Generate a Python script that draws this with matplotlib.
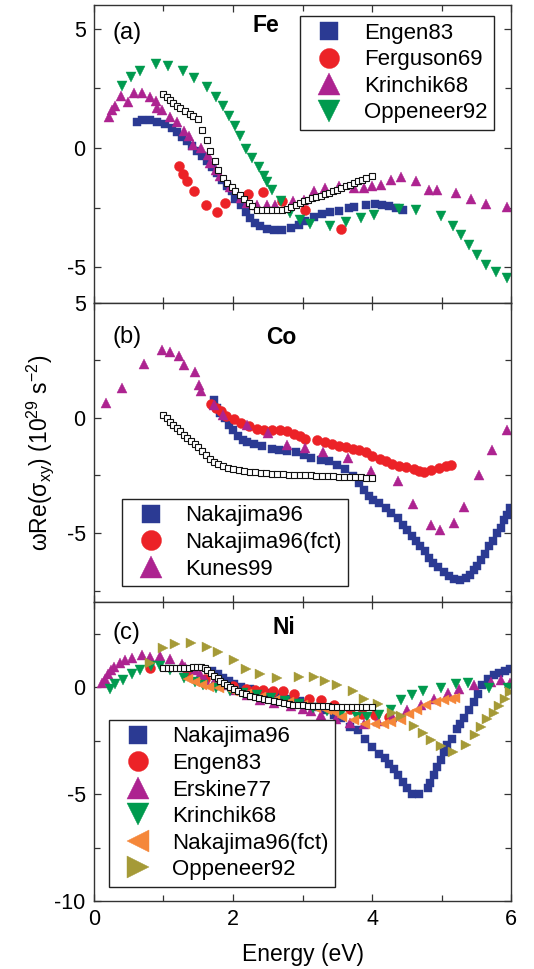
import matplotlib
matplotlib.use("Agg")
import matplotlib.pyplot as plt
from matplotlib.ticker import MultipleLocator

plt.rcParams['font.family'] = ['Liberation Sans', 'DejaVu Sans']
plt.rcParams['mathtext.fontset'] = 'custom'
plt.rcParams['mathtext.rm'] = 'Liberation Sans'
plt.rcParams['mathtext.it'] = 'Liberation Sans:italic'
plt.rcParams['axes.unicode_minus'] = False

# colours used for each dataset
BLUE = '#2b3a93'
RED = '#ec2227'
PURPLE = '#ad2390'
GREEN = '#009a4e'
ORANGE = '#f5873a'
OLIVE = '#a59a37'

# ---------------- Fe ----------------
fe_engen_x = [0.62, 0.69, 0.81, 0.90, 1.02, 1.12, 1.19, 1.26, 1.34, 1.41, 1.48, 1.55, 1.63, 1.70, 1.77,
              1.84, 1.91, 1.99, 2.03, 2.11, 2.18, 2.25, 2.32, 2.39, 2.49, 2.59, 2.71, 2.83, 2.95, 3.04,
              3.16, 3.28, 3.40, 3.52, 3.67, 3.74, 3.91, 4.05, 4.15, 4.25, 4.34, 4.44]
fe_engen_y = [1.08, 1.16, 1.16, 1.08, 1.02, 0.84, 0.66, 0.46, 0.28, 0.07, -0.14, -0.35, -0.56, -0.80, -1.05,
              -1.33, -1.58, -1.82, -2.14, -2.40, -2.68, -2.93, -3.14, -3.28, -3.39, -3.45, -3.45, -3.35, -3.24, -3.07,
              -2.89, -2.75, -2.67, -2.63, -2.51, -2.47, -2.39, -2.36, -2.40, -2.44, -2.51, -2.61]

fe_ferguson_x = [1.22, 1.28, 1.34, 1.44, 1.61, 1.77, 1.88, 2.21, 2.43, 2.70, 3.03, 3.56]
fe_ferguson_y = [-0.77, -1.09, -1.40, -1.82, -2.40, -2.68, -2.30, -1.91, -1.86, -2.23, -2.61, -3.39]

fe_krinchik_x = [0.21, 0.26, 0.30, 0.39, 0.49, 0.58, 0.69, 0.81, 0.89, 0.90, 0.98, 1.10, 1.19, 1.29, 1.36,
                 1.42, 1.54, 1.64, 1.67, 1.75, 1.82, 1.95, 2.11, 2.20, 2.35, 2.49, 2.61, 2.87, 3.02, 3.16,
                 3.33, 3.52, 3.74, 3.88, 4.00, 4.13, 4.27, 4.41, 4.63, 4.82, 4.94, 5.21, 5.42, 5.64, 5.94]
fe_krinchik_y = [1.30, 1.60, 1.77, 2.19, 1.95, 2.30, 2.33, 2.16, 1.99, 1.68, 1.58, 1.32, 1.11, 0.70, 0.49,
                 0.14, 0.00, -0.28, -0.63, -0.91, -1.19, -1.65, -2.09, -2.30, -2.40, -2.37, -2.37, -2.23, -2.17, -1.82,
                 -1.68, -1.61, -1.68, -1.68, -1.61, -1.54, -1.33, -1.22, -1.40, -1.75, -1.75, -1.89, -2.14, -2.33, -2.47]

fe_oppeneer_x = [0.41, 0.53, 0.66, 0.89, 1.07, 1.28, 1.44, 1.63, 1.75, 1.86, 1.94, 2.03, 2.10, 2.19, 2.27,
                 2.37, 2.44, 2.49, 2.56, 2.69, 2.82, 2.96, 3.11, 3.40, 3.62, 3.84, 4.03, 4.39, 4.63, 4.99,
                 5.17, 5.28, 5.40, 5.51, 5.64, 5.78, 5.94]
fe_oppeneer_y = [2.61, 2.97, 3.25, 3.53, 3.46, 3.25, 2.93, 2.56, 2.16, 1.75, 1.35, 0.94, 0.52, -0.04, -0.42,
                 -0.81, -1.19, -1.44, -1.77, -2.22, -2.72, -3.00, -3.18, -3.25, -3.11, -2.93, -2.79, -2.56, -2.61, -2.84,
                 -3.25, -3.63, -4.08, -4.47, -4.89, -5.21, -5.45]

fe_calc_x = [1.00, 1.05, 1.10, 1.14, 1.19, 1.24, 1.31, 1.38, 1.43, 1.50, 1.55, 1.62, 1.67, 1.74, 1.79,
             1.86, 1.91, 1.98, 2.03, 2.10, 2.16, 2.23, 2.28, 2.35, 2.42, 2.49, 2.56, 2.63, 2.71, 2.77,
             2.83, 2.90, 2.96, 3.02, 3.08, 3.14, 3.20, 3.26, 3.32, 3.38, 3.44, 3.50, 3.56, 3.62, 3.68,
             3.74, 3.80, 3.86, 3.92, 4.00]
fe_calc_y = [2.28, 2.14, 2.03, 1.89, 1.77, 1.68, 1.54, 1.42, 1.33, 1.22, 0.77, 0.32, -0.14, -0.56, -0.91,
             -1.26, -1.47, -1.63, -1.82, -1.96, -2.14, -2.30, -2.44, -2.58, -2.61, -2.61, -2.60, -2.60, -2.58, -2.56,
             -2.47, -2.37, -2.30, -2.22, -2.16, -2.11, -2.05, -2.00, -1.94, -1.87, -1.80, -1.75, -1.68, -1.61, -1.54,
             -1.47, -1.40, -1.33, -1.26, -1.19]

# ---------------- Co ----------------
co_nak_x = [1.72, 1.77, 1.82, 1.88, 1.94, 2.00, 2.07, 2.14, 2.20, 2.30, 2.42, 2.56, 2.66, 2.77, 2.90,
            3.02, 3.12, 3.26, 3.38, 3.49, 3.61, 3.73, 3.81, 3.89, 3.96, 4.02, 4.10, 4.20, 4.28, 4.37,
            4.44, 4.50, 4.57, 4.63, 4.69, 4.76, 4.82, 4.88, 4.95, 5.03, 5.11, 5.18, 5.27, 5.35, 5.41,
            5.46, 5.51, 5.57, 5.63, 5.69, 5.74, 5.80, 5.85, 5.90, 5.94, 5.99]
co_nak_y = [0.80, 0.43, 0.22, 0.00, -0.29, -0.54, -0.77, -0.94, -1.06, -1.13, -1.20, -1.35, -1.38, -1.45, -1.49,
            -1.59, -1.74, -1.84, -1.88, -2.03, -2.22, -2.54, -2.83, -3.12, -3.38, -3.55, -3.70, -3.91, -4.13, -4.35,
            -4.64, -4.86, -5.12, -5.36, -5.58, -5.80, -6.09, -6.30, -6.48, -6.71, -6.88, -7.00, -7.03, -6.96, -6.81,
            -6.59, -6.42, -6.16, -5.90, -5.58, -5.36, -5.00, -4.78, -4.42, -4.20, -3.91]

co_fct_x = [1.68, 1.76, 1.83, 1.90, 2.01, 2.12, 2.23, 2.35, 2.44, 2.56, 2.67, 2.77, 2.88, 2.97, 3.04,
            3.21, 3.33, 3.43, 3.52, 3.62, 3.72, 3.81, 3.91, 4.00, 4.12, 4.20, 4.29, 4.39, 4.49, 4.60,
            4.68, 4.75, 4.85, 4.97, 5.06, 5.13]
co_fct_y = [0.62, 0.43, 0.29, 0.10, -0.04, -0.22, -0.36, -0.46, -0.51, -0.54, -0.54, -0.58, -0.68, -0.80, -0.90,
            -0.94, -1.06, -1.12, -1.20, -1.28, -1.35, -1.41, -1.49, -1.64, -1.77, -1.88, -2.00, -2.07, -2.13, -2.22,
            -2.32, -2.36, -2.28, -2.17, -2.10, -2.03]

co_kunes_x = [0.18, 0.41, 0.72, 0.98, 1.10, 1.23, 1.29, 1.45, 1.51, 1.54, 1.72, 1.86, 2.20, 2.51, 2.77,
              3.04, 3.30, 3.65, 3.99, 4.37, 4.59, 4.85, 4.98, 5.18, 5.32, 5.54, 5.72, 5.94]
co_kunes_y = [0.65, 1.30, 2.36, 2.97, 2.86, 2.68, 2.32, 1.99, 1.45, 1.16, 0.58, 0.14, -0.32, -0.65, -1.16,
              -1.30, -1.49, -1.74, -2.32, -2.75, -3.72, -4.64, -4.88, -4.57, -3.88, -2.49, -1.41, -0.54]

co_calc_x = [1.00, 1.05, 1.10, 1.14, 1.19, 1.24, 1.29, 1.34, 1.40, 1.45, 1.50, 1.55, 1.61, 1.67, 1.73,
             1.79, 1.86, 1.93, 2.00, 2.08, 2.16, 2.24, 2.32, 2.40, 2.48, 2.56, 2.64, 2.72, 2.80, 2.88,
             2.96, 3.04, 3.12, 3.20, 3.28, 3.36, 3.44, 3.52, 3.60, 3.68, 3.76, 3.84, 3.92, 4.00]
co_calc_y = [0.12, -0.02, -0.16, -0.30, -0.45, -0.58, -0.72, -0.86, -1.00, -1.13, -1.28, -1.45, -1.62, -1.78, -1.92,
             -2.02, -2.10, -2.16, -2.22, -2.27, -2.31, -2.34, -2.37, -2.39, -2.41, -2.43, -2.44, -2.45, -2.46, -2.47,
             -2.48, -2.49, -2.50, -2.51, -2.52, -2.53, -2.54, -2.55, -2.56, -2.57, -2.57, -2.58, -2.59, -2.60]

# ---------------- Ni ----------------
ni_nak_x = [1.70, 1.78, 1.86, 1.94, 2.02, 2.12, 2.24, 2.36, 2.48, 2.60, 2.72, 2.84, 2.96, 3.08, 3.20,
            3.32, 3.45, 3.55, 3.68, 3.80, 3.90, 4.00, 4.10, 4.18, 4.25, 4.32, 4.38, 4.44, 4.50, 4.58,
            4.68, 4.80, 4.84, 4.89, 4.94, 4.99, 5.03, 5.08, 5.15, 5.22, 5.27, 5.32, 5.40, 5.47, 5.52,
            5.58, 5.67, 5.75, 5.83, 5.91, 5.98]
ni_nak_y = [0.75, 0.60, 0.45, 0.30, 0.15, 0.02, -0.10, -0.20, -0.28, -0.36, -0.45, -0.55, -0.66, -0.78, -0.92,
            -1.08, -1.29, -1.45, -1.84, -2.02, -2.40, -2.79, -3.10, -3.30, -3.57, -3.80, -4.11, -4.42, -4.73, -4.97,
            -5.00, -4.73, -4.47, -4.11, -3.72, -3.38, -3.02, -2.71, -2.40, -1.93, -1.70, -1.42, -1.07, -0.69, -0.30,
            0.10, 0.40, 0.58, 0.69, 0.78, 0.84]

ni_engen_x = [0.80, 1.34, 1.60, 1.80, 2.00, 2.18, 2.32, 2.43, 2.58, 2.72, 2.88, 3.09, 3.26, 3.46, 3.68,
              3.86, 4.04, 4.24]
ni_engen_y = [0.92, 0.64, 0.40, 0.20, 0.05, -0.06, -0.14, -0.11, -0.17, -0.17, -0.33, -0.53, -0.61, -0.84, -1.00,
              -1.23, -1.31, -1.39]

ni_erskine_x = [0.12, 0.16, 0.20, 0.25, 0.29, 0.38, 0.45, 0.54, 0.69, 0.81, 0.95, 1.10, 1.27, 1.31, 1.46,
                1.53, 1.59, 1.72, 1.85, 2.01, 2.20, 2.39, 2.59, 2.83, 3.00, 3.12, 3.26, 3.48, 3.69, 3.88,
                4.08, 4.29, 4.51, 4.70, 4.89, 5.09, 5.25, 5.47, 5.71, 5.85, 5.98]
ni_erskine_y = [0.20, 0.40, 0.64, 0.83, 0.95, 1.14, 1.26, 1.39, 1.50, 1.42, 1.45, 1.34, 1.11, 0.97, 0.79,
                0.64, 0.34, 0.26, 0.10, -0.12, -0.36, -0.59, -0.75, -0.87, -1.00, -1.12, -1.29, -1.50, -1.68, -1.71,
                -1.60, -1.40, -1.06, -0.83, -0.56, -0.28, -0.09, 0.11, 0.26, 0.34, 0.22]

ni_krinchik_x = [0.23, 0.30, 0.42, 0.54, 0.66, 0.82, 0.95, 1.10, 1.30, 1.45, 1.57, 1.75, 1.95, 2.15, 2.35,
                 2.55, 2.75, 2.95, 3.15, 3.35, 3.55, 3.79, 3.93, 4.10, 4.28, 4.41, 4.58, 4.73, 4.99, 5.21,
                 5.38, 5.69, 5.95]
ni_krinchik_y = [-0.10, 0.17, 0.34, 0.62, 0.81, 1.00, 0.98, 0.80, 0.45, 0.25, 0.09, -0.05, -0.15, -0.25, -0.35,
                 -0.50, -0.62, -0.78, -0.95, -1.10, -1.25, -1.37, -1.40, -1.29, -1.06, -0.59, -0.36, -0.16, -0.05, 0.16,
                 0.19, -0.05, -0.05]

ni_fct_x = [1.35, 1.45, 1.55, 1.65, 1.80, 2.00, 2.20, 2.40, 2.60, 2.80, 3.00, 3.20, 3.35, 3.45, 3.57,
            3.74, 3.90, 4.05, 4.17, 4.27, 4.41, 4.53, 4.65, 4.77, 4.92, 5.03, 5.13, 5.20]
ni_fct_y = [0.40, 0.25, 0.12, 0.02, -0.05, -0.15, -0.30, -0.45, -0.60, -0.70, -0.82, -0.95, -1.05, -1.15, -1.39,
            -1.54, -1.70, -1.74, -1.70, -1.62, -1.51, -1.26, -1.07, -0.84, -0.69, -0.61, -0.55, -0.50]

ni_oppeneer_x = [0.80, 1.00, 1.17, 1.39, 1.62, 1.79, 2.01, 2.19, 2.39, 2.63, 2.95, 3.16, 3.33, 3.50, 3.72,
                 3.88, 4.08, 4.29, 4.41, 4.61, 4.73, 4.85, 4.99, 5.16, 5.35, 5.48, 5.57, 5.66, 5.75, 5.83,
                 5.91, 5.99]
ni_oppeneer_y = [1.12, 1.85, 2.02, 2.06, 1.90, 1.67, 1.28, 0.84, 0.62, 0.42, 0.47, 0.47, 0.30, 0.11, -0.16,
                 -0.56, -0.78, -1.18, -1.34, -1.81, -2.15, -2.46, -2.77, -3.01, -2.69, -2.23, -1.87, -1.50, -1.21, -0.87,
                 -0.56, -0.20]

ni_calc_x = [1.00, 1.06, 1.12, 1.18, 1.24, 1.30, 1.36, 1.42, 1.48, 1.54, 1.60, 1.63, 1.68, 1.73, 1.78,
             1.82, 1.87, 1.92, 1.96, 2.01, 2.07, 2.13, 2.19, 2.25, 2.31, 2.37, 2.44, 2.51, 2.59, 2.66,
             2.73, 2.80, 2.87, 2.94, 3.01, 3.08, 3.15, 3.22, 3.29, 3.36, 3.43, 3.50, 3.57, 3.64, 3.71,
             3.78, 3.85, 3.92, 4.00]
ni_calc_y = [0.90, 0.90, 0.90, 0.91, 0.91, 0.92, 0.92, 0.93, 0.93, 0.94, 0.92, 0.81, 0.68, 0.53, 0.42,
             0.30, 0.19, 0.09, 0.00, -0.09, -0.17, -0.25, -0.33, -0.39, -0.44, -0.50, -0.56, -0.61, -0.65, -0.70,
             -0.75, -0.78, -0.81, -0.83, -0.85, -0.86, -0.87, -0.88, -0.89, -0.89, -0.90, -0.90, -0.91, -0.91, -0.92,
             -0.92, -0.93, -0.93, -0.93]

FS = 15.5
LEG_FS = 16
MS = {'s': 6.2, 'o': 7.2, '^': 7.6, 'v': 7.6, '<': 7.6, '>': 7.6}


def pts(ax, x, y, marker, color, label):
    ax.plot(x, y, ls='none', marker=marker, ms=MS[marker], mfc=color, mec=color,
            mew=0.3, label=label)


def calc(ax, x, y):
    ax.plot(x, y, ls='none', marker='s', ms=5.0, mfc='white', mec='#111111', mew=0.8, zorder=5)


def style(ax, ylim, bottom=False):
    ax.set_xlim(0, 6)
    ax.set_ylim(*ylim)
    ax.xaxis.set_major_locator(MultipleLocator(2))
    ax.xaxis.set_minor_locator(MultipleLocator(1))
    ax.yaxis.set_major_locator(MultipleLocator(5))
    ax.yaxis.set_minor_locator(MultipleLocator(2.5))
    ax.tick_params(which='both', direction='in', top=True, right=True, labelsize=FS,
                   color='#333333', width=0.9)
    ax.tick_params(which='major', length=5, pad=6)
    ax.tick_params(which='minor', length=4.5)
    if not bottom:
        ax.tick_params(labelbottom=False)
    for s in ax.spines.values():
        s.set_color('#333333')
        s.set_linewidth(1.0)


def legend(ax, anchor, loc):
    leg = ax.legend(loc=loc, bbox_to_anchor=anchor, fontsize=LEG_FS, markerscale=2.0,
                    frameon=True, fancybox=False, framealpha=1, edgecolor='#222222',
                    borderpad=0.3, labelspacing=0.25, handlelength=2.0, handletextpad=0.55,
                    borderaxespad=0.0)
    leg.get_frame().set_linewidth(1.0)


fig = plt.figure(figsize=(5.34, 9.69), dpi=100)
left, width = 0.176, 0.781
h = 0.3087
ax_a = fig.add_axes([left, 0.6873, width, 0.3075])
ax_b = fig.add_axes([left, 0.3787, width, h])
ax_c = fig.add_axes([left, 0.0702, width, h])

# (a) Fe
pts(ax_a, fe_engen_x, fe_engen_y, 's', BLUE, 'Engen83')
pts(ax_a, fe_ferguson_x, fe_ferguson_y, 'o', RED, 'Ferguson69')
pts(ax_a, fe_krinchik_x, fe_krinchik_y, '^', PURPLE, 'Krinchik68')
pts(ax_a, fe_oppeneer_x, fe_oppeneer_y, 'v', GREEN, 'Oppeneer92')
calc(ax_a, fe_calc_x, fe_calc_y)
style(ax_a, (-6.5, 6))
legend(ax_a, (0.959, 0.963), 'upper right')
ax_a.text(0.045, 0.905, '(a)', transform=ax_a.transAxes, fontsize=17, va='center')
ax_a.text(0.413, 0.93, 'Fe', transform=ax_a.transAxes, fontsize=16.5, fontweight='bold',
          ha='center', va='center')

# (b) Co
pts(ax_b, co_nak_x, co_nak_y, 's', BLUE, 'Nakajima96')
pts(ax_b, co_fct_x, co_fct_y, 'o', RED, 'Nakajima96(fct)')
pts(ax_b, co_kunes_x, co_kunes_y, '^', PURPLE, 'Kunes99')
calc(ax_b, co_calc_x, co_calc_y)
style(ax_b, (-8, 5))
legend(ax_b, (0.067, 0.053), 'lower left')
ax_b.text(0.045, 0.886, '(b)', transform=ax_b.transAxes, fontsize=17, va='center')
ax_b.text(0.45, 0.883, 'Co', transform=ax_b.transAxes, fontsize=16.5, fontweight='bold',
          ha='center', va='center')

# (c) Ni
pts(ax_c, ni_nak_x, ni_nak_y, 's', BLUE, 'Nakajima96')
pts(ax_c, ni_engen_x, ni_engen_y, 'o', RED, 'Engen83')
pts(ax_c, ni_erskine_x, ni_erskine_y, '^', PURPLE, 'Erskine77')
pts(ax_c, ni_krinchik_x, ni_krinchik_y, 'v', GREEN, 'Krinchik68')
pts(ax_c, ni_fct_x, ni_fct_y, '<', ORANGE, 'Nakajima96(fct)')
pts(ax_c, ni_oppeneer_x, ni_oppeneer_y, '>', OLIVE, 'Oppeneer92')
calc(ax_c, ni_calc_x, ni_calc_y)
style(ax_c, (-10, 4), bottom=True)
legend(ax_c, (0.036, 0.047), 'lower left')
ax_c.text(0.045, 0.896, '(c)', transform=ax_c.transAxes, fontsize=17, va='center')
ax_c.text(0.455, 0.913, 'Ni', transform=ax_c.transAxes, fontsize=16.5, fontweight='bold',
          ha='center', va='center')
ax_c.set_xlabel('Energy (eV)', fontsize=16.5, labelpad=9)

fig.text(0.075, 0.533, r'ωRe(σ$_{\mathrm{xy}}$) (10$^{\mathrm{29}}$ s$^{\mathrm{-2}}$)',
         rotation=90, ha='center', va='center', fontsize=16.5)

fig.savefig('out.png', dpi=100)
